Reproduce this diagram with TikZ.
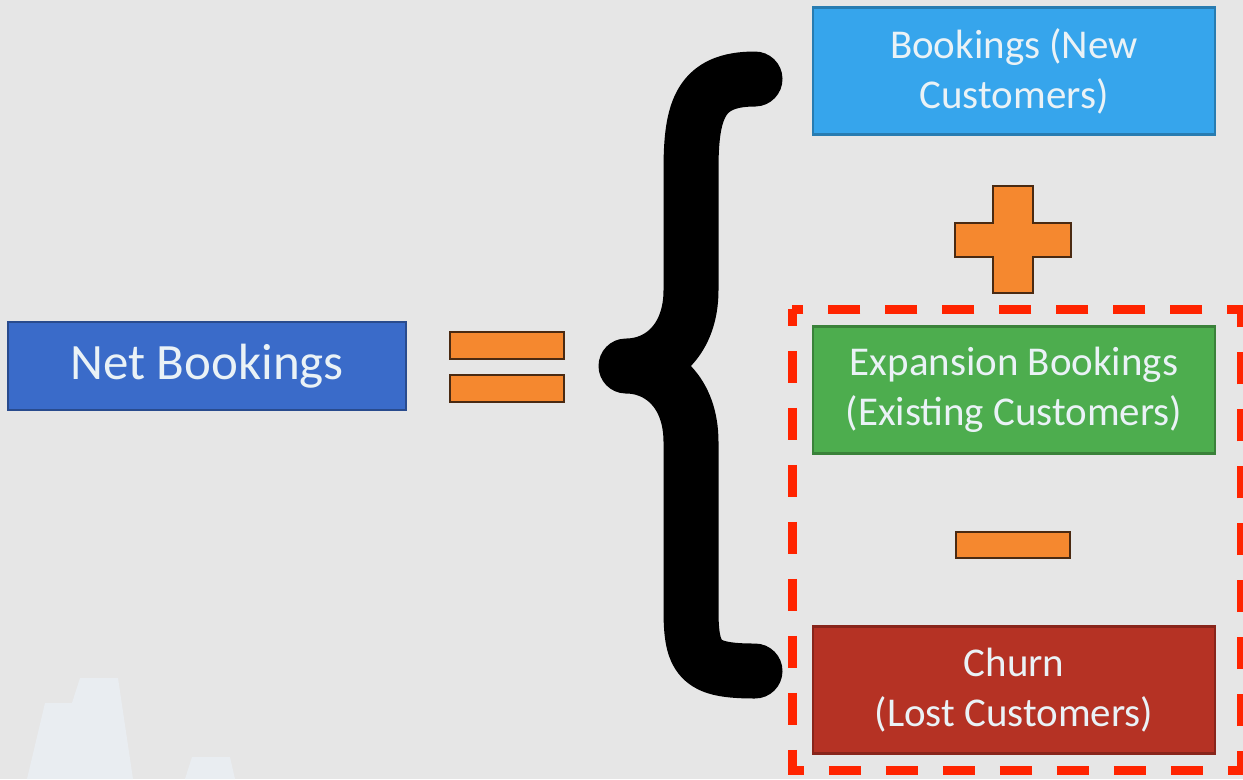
\documentclass[tikz,border=0pt]{standalone}
\usepackage{fontspec}
\setmainfont{Carlito}

\definecolor{bg}{HTML}{E6E6E6}
\definecolor{faint}{HTML}{E9EDF1}
\definecolor{netblue}{HTML}{3A6BC9}
\definecolor{newblue}{HTML}{36A5EC}
\definecolor{expgreen}{HTML}{4DAD4E}
\definecolor{churnred}{HTML}{B53224}
\definecolor{boxtext}{HTML}{EAF2F6}
\definecolor{signorange}{HTML}{F5882F}
\definecolor{signedge}{HTML}{4A2A12}
\definecolor{dashred}{HTML}{FF2400}

\def\bracepath{(755,79) .. controls (700,79) and (691,110) .. (691,170) -- (691,290)
    .. controls (691,340) and (660,366) .. (626,366)
    .. controls (660,366) and (691,392) .. (691,442) -- (691,610)
    .. controls (691,660) and (700,671) .. (755,671)}
\def\plussign{(993,186) -- (1033,186) -- (1033,223) -- (1071,223) -- (1071,257) -- (1033,257)
    -- (1033,293) -- (993,293) -- (993,257) -- (955,257) -- (955,223) -- (993,223) -- cycle}

\begin{document}
\begin{tikzpicture}[x=0.02cm, y=-0.02cm]
    \tikzstyle{box}=[draw, line width=1.2pt, text=boxtext, align=center, inner sep=0pt,
        font=\fontsize{23.3}{28.5}\selectfont, minimum width=8.04cm, minimum height=2.54cm]
    \tikzstyle{sign}=[fill=signorange, draw=signedge, line width=1.6pt]
    \useasboundingbox (0,0) rectangle (1243,779);
    \fill[bg] (0,0) rectangle (1243,779);
    % faint marks, bottom left
    \fill[faint] (27,779) -- (45,703) -- (72,703) -- (80,678) -- (118,678) -- (133,779) -- cycle;
    \fill[faint] (185,779) -- (192,757) -- (230,757) -- (235,779) -- cycle;

    \node[box, fill=netblue, draw=netblue!70!black, minimum width=7.96cm, minimum height=1.76cm,
        font=\fontsize{29}{34}\selectfont] (net) at (207,366) {Net Bookings};

    \draw[sign] (450,332) rectangle (564,359);
    \draw[sign] (450,375) rectangle (564,402);

    \draw[line width=1.1cm, line cap=round, line join=round] \bracepath;

    \foreach \n/\c/\y/\t in {new/newblue/71/{Bookings (New\\Customers)},
        exp/expgreen/390/{Expansion Bookings\\(Existing Customers)},
        churn/churnred/690/{Churn\\(Lost Customers)}}
        \node[box, fill=\c, draw=\c!75!black] (\n) at (1014,\y) {\t};

    \draw[sign] \plussign;
    \draw[sign] (956,532) rectangle (1070,558);

    \draw[dashred, line width=0.18cm, dash pattern=on 0.64cm off 0.5cm, dash phase=0.3cm]
        (792,309) rectangle (1241,770);
\end{tikzpicture}
\end{document}
